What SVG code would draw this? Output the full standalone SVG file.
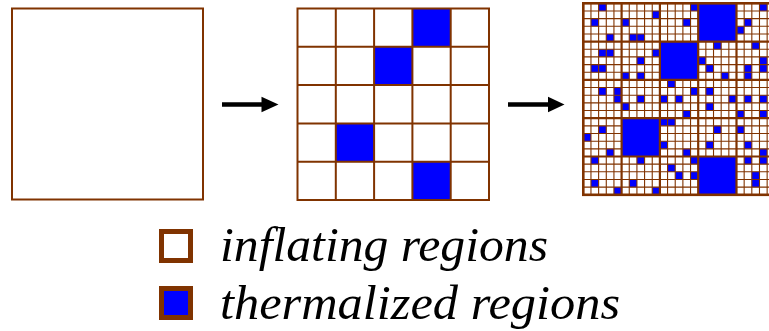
<svg xmlns="http://www.w3.org/2000/svg" width="769" height="331" viewBox="0 0 769 331">
<style>
.br{fill:none;stroke:#803300}
.bl{fill:#0000ff}
.lab{font-family:"Liberation Serif","Times New Roman",serif;font-style:italic;font-size:48px;fill:#000}
</style>
<defs>
<rect id="c" width="7.66" height="7.66" class="bl"/>
</defs>
<rect width="769" height="331" fill="#fff"/>
<g id="stage1">
<rect x="12" y="8.5" width="191" height="191" class="br" stroke-width="2"/>
</g>
<g id="stage2" transform="translate(297.5,8.5)">
<rect x="114.9" y="0" width="38.3" height="38.3" class="bl"/>
<rect x="76.6" y="38.3" width="38.3" height="38.3" class="bl"/>
<rect x="38.3" y="114.9" width="38.3" height="38.3" class="bl"/>
<rect x="114.9" y="153.2" width="38.3" height="38.3" class="bl"/>
<path class="br" stroke-width="2" d="M38.3 0V191.5M76.6 0V191.5M114.9 0V191.5M153.2 0V191.5M0 38.3H191.5M0 76.6H191.5M0 114.9H191.5M0 153.2H191.5"/>
<rect x="0" y="0" width="191.5" height="191.5" class="br" stroke-width="2"/>
</g>
<g id="stage3" transform="translate(583.3,3.3)">
<rect x="114.9" y="0" width="38.3" height="38.3" class="bl"/>
<rect x="76.6" y="38.3" width="38.3" height="38.3" class="bl"/>
<rect x="38.3" y="114.9" width="38.3" height="38.3" class="bl"/>
<rect x="114.9" y="153.2" width="38.3" height="38.3" class="bl"/>
<use href="#c" x="15.32" y="0"/><use href="#c" x="107.24" y="0"/><use href="#c" x="176.18" y="0"/>
<use href="#c" x="68.94" y="7.66"/>
<use href="#c" x="7.66" y="15.32"/><use href="#c" x="38.3" y="15.32"/><use href="#c" x="99.58" y="15.32"/><use href="#c" x="160.86" y="15.32"/>
<use href="#c" x="153.2" y="22.98"/>
<use href="#c" x="22.98" y="30.64"/><use href="#c" x="45.96" y="30.64"/><use href="#c" x="53.62" y="30.64"/>
<use href="#c" x="130.22" y="38.3"/><use href="#c" x="168.52" y="38.3"/>
<use href="#c" x="15.32" y="45.96"/><use href="#c" x="22.98" y="45.96"/><use href="#c" x="68.94" y="45.96"/>
<use href="#c" x="53.62" y="53.62"/><use href="#c" x="114.9" y="53.62"/><use href="#c" x="176.18" y="53.62"/>
<use href="#c" x="7.66" y="61.28"/><use href="#c" x="15.32" y="61.28"/><use href="#c" x="122.56" y="61.28"/><use href="#c" x="160.86" y="61.28"/><use href="#c" x="176.18" y="61.28"/>
<use href="#c" x="38.3" y="68.94"/><use href="#c" x="53.62" y="68.94"/><use href="#c" x="137.88" y="68.94"/><use href="#c" x="160.86" y="68.94"/>
<use href="#c" x="84.26" y="76.6"/>
<use href="#c" x="15.32" y="84.26"/><use href="#c" x="30.64" y="84.26"/><use href="#c" x="107.24" y="84.26"/><use href="#c" x="122.56" y="84.26"/>
<use href="#c" x="30.64" y="91.92"/><use href="#c" x="53.62" y="91.92"/><use href="#c" x="76.6" y="91.92"/><use href="#c" x="91.92" y="91.92"/><use href="#c" x="145.54" y="91.92"/><use href="#c" x="160.86" y="91.92"/><use href="#c" x="176.18" y="91.92"/>
<use href="#c" x="38.3" y="99.58"/><use href="#c" x="122.56" y="99.58"/>
<use href="#c" x="99.58" y="107.24"/><use href="#c" x="153.2" y="107.24"/><use href="#c" x="176.18" y="107.24"/>
<use href="#c" x="76.6" y="114.9"/><use href="#c" x="84.26" y="114.9"/>
<use href="#c" x="15.32" y="122.56"/><use href="#c" x="130.22" y="122.56"/><use href="#c" x="153.2" y="122.56"/>
<use href="#c" x="0" y="130.22"/>
<use href="#c" x="76.6" y="137.88"/><use href="#c" x="122.56" y="137.88"/><use href="#c" x="160.86" y="137.88"/>
<use href="#c" x="22.98" y="145.54"/><use href="#c" x="99.58" y="145.54"/><use href="#c" x="176.18" y="145.54"/>
<use href="#c" x="7.66" y="153.2"/><use href="#c" x="53.62" y="153.2"/><use href="#c" x="107.24" y="153.2"/><use href="#c" x="160.86" y="153.2"/><use href="#c" x="176.18" y="153.2"/>
<use href="#c" x="84.26" y="160.86"/>
<use href="#c" x="91.92" y="168.52"/><use href="#c" x="107.24" y="168.52"/><use href="#c" x="168.52" y="168.52"/>
<use href="#c" x="7.66" y="176.18"/><use href="#c" x="45.96" y="176.18"/><use href="#c" x="168.52" y="176.18"/>
<use href="#c" x="30.64" y="183.84"/><use href="#c" x="68.94" y="183.84"/>
<path class="br" stroke-width="1.1" d="M7.66 0V191.5M15.32 0V191.5M22.98 0V191.5M30.64 0V191.5M45.96 0V191.5M53.62 0V191.5M61.28 0V191.5M68.94 0V191.5M84.26 0V191.5M91.92 0V191.5M99.58 0V191.5M107.24 0V191.5M122.56 0V191.5M130.22 0V191.5M137.88 0V191.5M145.54 0V191.5M160.86 0V191.5M168.52 0V191.5M176.18 0V191.5M183.84 0V191.5M0 7.66H191.5M0 15.32H191.5M0 22.98H191.5M0 30.64H191.5M0 45.96H191.5M0 53.62H191.5M0 61.28H191.5M0 68.94H191.5M0 84.26H191.5M0 91.92H191.5M0 99.58H191.5M0 107.24H191.5M0 122.56H191.5M0 130.22H191.5M0 137.88H191.5M0 145.54H191.5M0 160.86H191.5M0 168.52H191.5M0 176.18H191.5M0 183.84H191.5"/>
<rect x="114.9" y="0" width="38.3" height="38.3" class="bl"/>
<rect x="76.6" y="38.3" width="38.3" height="38.3" class="bl"/>
<rect x="38.3" y="114.9" width="38.3" height="38.3" class="bl"/>
<rect x="114.9" y="153.2" width="38.3" height="38.3" class="bl"/>
<path class="br" stroke-width="2.2" d="M38.3 0V191.5M76.6 0V191.5M114.9 0V191.5M153.2 0V191.5M0 38.3H191.5M0 76.6H191.5M0 114.9H191.5M0 153.2H191.5"/>
<rect x="0" y="0" width="191.5" height="191.5" class="br" stroke-width="2.6"/>
</g>
<g id="connectors">
<line x1="222" y1="104.5" x2="264" y2="104.5" stroke="#000" stroke-width="4.5"/>
<polygon points="261.5,96.7 278.5,104.5 261.5,112.3" fill="#000"/>
<line x1="508" y1="104.5" x2="550" y2="104.5" stroke="#000" stroke-width="4.5"/>
<polygon points="548,96.7 564.5,104.5 548,112.3" fill="#000"/>
</g>
<g id="legend-inflating">
<rect x="161.5" y="231.5" width="29" height="29" fill="#fff" stroke="#803300" stroke-width="5"/>
<text class="lab" x="220" y="261" textLength="328" lengthAdjust="spacingAndGlyphs">inflating regions</text>
</g>
<g id="legend-thermalized">
<rect x="161.5" y="288.5" width="29" height="29" fill="#0000ff" stroke="#803300" stroke-width="5"/>
<text class="lab" x="220" y="319" textLength="400" lengthAdjust="spacingAndGlyphs">thermalized regions</text>
</g>
</svg>
